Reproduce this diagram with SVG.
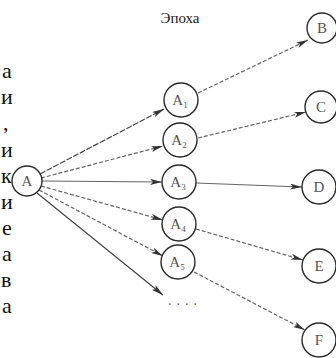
<svg xmlns="http://www.w3.org/2000/svg" width="336" height="358" viewBox="0 0 336 358">
<style>
.n{fill:#fff;stroke:#2a2a2a;stroke-width:1.4}
.t{font-family:"Liberation Serif","Times New Roman",serif;font-size:15px;fill:#555;text-anchor:middle}
.s{font-size:9px}
.e{fill:none;stroke:#666;stroke-width:1.2;marker-end:url(#ah)}
.d{stroke-dasharray:4 2}
.side{font-family:"Liberation Serif","Times New Roman",serif;font-size:22px;fill:#111}
</style>
<defs>
<marker id="ah" viewBox="0 0 12 6" refX="12" refY="3" markerWidth="12" markerHeight="6" markerUnits="userSpaceOnUse" orient="auto">
<path d="M0,0 L12,3 L0,6 L3,3 Z" fill="#333"/>
</marker>
</defs>
<rect width="336" height="358" fill="#fff"/>
<text x="180" y="23" font-family="Liberation Serif,Times New Roman,serif" font-size="15" fill="#222" text-anchor="middle">Эпоха</text>
<g id="side-text">
<text class="side" x="2" y="78">а</text>
<text class="side" x="1" y="104">и</text>
<text class="side" x="3" y="130">,</text>
<text class="side" x="1" y="157">и</text>
<text class="side" x="1" y="183">к</text>
<text class="side" x="1" y="209">и</text>
<text class="side" x="2" y="235">е</text>
<text class="side" x="2" y="261">а</text>
<text class="side" x="1" y="287">в</text>
<text class="side" x="2" y="313">а</text>
</g>
<g id="connectors">
<line class="e d" x1="40" y1="174" x2="164" y2="109" style="stroke:#444;stroke-dasharray:6 1.5"/>
<line class="e d" x1="41" y1="178" x2="163" y2="146"/>
<line class="e" x1="42" y1="181" x2="162" y2="182"/>
<line class="e d" x1="41" y1="186" x2="163" y2="220"/>
<line class="e d" x1="39" y1="190" x2="163" y2="256"/>
<line class="e" x1="37" y1="193" x2="163" y2="295" style="stroke:#444"/>
<line class="e d" x1="198" y1="93" x2="308" y2="40"/>
<line class="e d" x1="198" y1="138" x2="306" y2="112"/>
<line class="e" x1="196" y1="183" x2="302" y2="187"/>
<line class="e d" x1="196" y1="229" x2="303" y2="260"/>
<line class="e d" x1="194" y1="272" x2="305" y2="330"/>
</g>
<g id="A"><circle class="n" cx="27" cy="181" r="15"/><text class="t" x="27" y="186">A</text></g>
<g id="A1"><circle class="n" cx="181" cy="100" r="17"/><text class="t" x="180" y="105">A<tspan class="s" dy="3">1</tspan></text></g>
<g id="A2"><circle class="n" cx="180" cy="140" r="17"/><text class="t" x="179" y="145">A<tspan class="s" dy="3">2</tspan></text></g>
<g id="A3"><circle class="n" cx="179" cy="182" r="17"/><text class="t" x="178" y="187">A<tspan class="s" dy="3">3</tspan></text></g>
<g id="A4"><circle class="n" cx="179" cy="224" r="17"/><text class="t" x="178" y="229">A<tspan class="s" dy="3">4</tspan></text></g>
<g id="A5"><circle class="n" cx="178" cy="262" r="17"/><text class="t" x="177" y="267">A<tspan class="s" dy="3">5</tspan></text></g>
<g id="dots"><text x="168" y="305" font-family="Liberation Serif,Times New Roman,serif" font-size="14" fill="#666" letter-spacing="5">....</text></g>
<g id="B"><circle class="n" cx="322" cy="28" r="15"/><text class="t" x="322" y="33">B</text></g>
<g id="C"><circle class="n" cx="321" cy="107" r="16"/><text class="t" x="321" y="112">C</text></g>
<g id="D"><circle class="n" cx="319" cy="187" r="17"/><text class="t" x="319" y="192">D</text></g>
<g id="E"><circle class="n" cx="319" cy="266" r="17"/><text class="t" x="319" y="271">E</text></g>
<g id="F"><circle class="n" cx="319" cy="340" r="17"/><text class="t" x="319" y="345">F</text></g>
</svg>
